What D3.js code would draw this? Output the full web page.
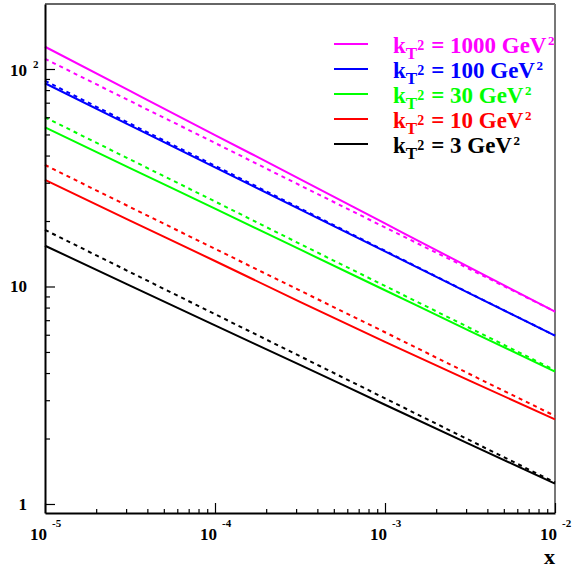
<!DOCTYPE html>
<html>
<head>
<meta charset="utf-8">
<script src="https://cdn.jsdelivr.net/npm/d3@7"></script>
<style>
  body { margin: 0; background: #fff; }
  text { font-family: "Liberation Serif", "DejaVu Serif", serif; font-weight: bold; }
</style>
</head>
<body>
<svg id="chart" width="572" height="568"></svg>
<script>
// x points (log spaced) shared by all curves
const xs = [1e-5, 3.162e-5, 1e-4, 3.162e-4, 1e-3, 3.162e-3, 1e-2];

// solid curves
const solid1000 = [126.6, 79.3, 49.7, 31.2, 19.5, 12.2, 7.66];
const solid100  = [86.0, 55.1, 35.3, 22.6, 14.5, 9.27, 5.94];
const solid30   = [53.9, 35.0, 22.8, 14.8, 9.61, 6.24, 4.06];
const solid10   = [30.9, 20.1, 13.1, 8.5, 5.56, 3.68, 2.45];
const solid3    = [15.4, 10.1, 6.63, 4.36, 2.86, 1.88, 1.24];

// dashed curves
const dashed1000 = [111.4, 71.3, 45.7, 29.2, 18.7, 12.0, 7.67];
const dashed100  = [88.3, 56.1, 35.9, 22.9, 14.6, 9.3, 5.95];
const dashed30   = [60.0, 38.4, 24.6, 15.7, 10.06, 6.44, 4.12];
const dashed10   = [36.2, 23.2, 14.9, 9.58, 6.16, 3.95, 2.54];
const dashed3    = [18.2, 11.65, 7.46, 4.78, 3.06, 1.96, 1.256];

const legendValues = ["1000", "100", "30", "10", "3"];
const colors = ["#ff00ff", "#0000ff", "#00ff00", "#ff0000", "#000000"];

const xMajor = [1e-5, 1e-4, 1e-3, 1e-2];
const xMajorExp = ["-5", "-4", "-3", "-2"];
const yMajor = [1, 10, 100];

const svg = d3.select("#chart");
const mLeft = 45, mRight = 555, mTop = 4, mBottom = 513;

const x = d3.scaleLog().domain([1e-5, 1e-2]).range([mLeft, mRight]);
const y = d3.scaleLog().domain([0.909, 199]).range([mBottom, mTop]);

// minor ticks 2..9 per decade
function minors(lo, hi) {
  const out = [];
  for (let d = Math.floor(Math.log10(lo)); d <= Math.ceil(Math.log10(hi)); d++) {
    for (let m = 2; m <= 9; m++) {
      const v = m * Math.pow(10, d);
      if (v > lo && v < hi) out.push(v);
    }
  }
  return out;
}

// frame (top and right)
svg.append("line").attr("x1", mLeft).attr("x2", mRight).attr("y1", mTop).attr("y2", mTop)
  .attr("stroke", "#333").attr("stroke-width", 1.5);
svg.append("line").attr("x1", mRight).attr("x2", mRight).attr("y1", mTop).attr("y2", mBottom)
  .attr("stroke", "#777").attr("stroke-width", 2);

// curves
const line = d3.line().x(d => x(d[0])).y(d => y(d[1])).curve(d3.curveMonotoneX);
const solids = [solid1000, solid100, solid30, solid10, solid3];
const dashes = [dashed1000, dashed100, dashed30, dashed10, dashed3];

solids.forEach((s, i) => {
  svg.append("path")
    .datum(xs.map((v, j) => [v, s[j]]))
    .attr("d", line)
    .attr("fill", "none")
    .attr("stroke", colors[i])
    .attr("stroke-width", 2);
  svg.append("path")
    .datum(xs.map((v, j) => [v, dashes[i][j]]))
    .attr("d", line)
    .attr("fill", "none")
    .attr("stroke", colors[i])
    .attr("stroke-width", 2)
    .attr("stroke-dasharray", "4,4");
});

// axes
const gx = svg.append("g").attr("transform", `translate(0,${mBottom})`);
gx.call(d3.axisBottom(x).tickValues(xMajor).tickSize(-10).tickSizeOuter(0).tickFormat(""));
gx.append("g").call(d3.axisBottom(x).tickValues(minors(1e-5, 1e-2)).tickSize(-4).tickSizeOuter(0).tickFormat(""))
  .select(".domain").remove();

const gy = svg.append("g").attr("transform", `translate(${mLeft},0)`);
gy.call(d3.axisLeft(y).tickValues(yMajor).tickSize(-10).tickSizeOuter(0).tickFormat(""));
gy.append("g").call(d3.axisLeft(y).tickValues(minors(0.909, 199)).tickSize(-5).tickSizeOuter(0).tickFormat(""))
  .select(".domain").remove();

svg.selectAll(".domain").attr("stroke", "#000").attr("stroke-width", 2);
svg.selectAll(".tick line").attr("stroke", "#000").attr("stroke-width", 1.2);

// x tick labels
xMajor.forEach((v, i) => {
  const px = x(v);
  svg.append("text").attr("x", px + 2).attr("y", 540).attr("text-anchor", "end")
    .attr("font-size", 17).text("10");
  svg.append("text").attr("x", px + 7).attr("y", 527)
    .attr("font-size", 11).text(xMajorExp[i]);
});

// y tick labels
svg.append("text").attr("x", 27).attr("y", y(1) + 6).attr("text-anchor", "end")
  .attr("font-size", 17).text("1");
svg.append("text").attr("x", 27).attr("y", y(10) + 6).attr("text-anchor", "end")
  .attr("font-size", 17).text("10");
svg.append("text").attr("x", 27).attr("y", y(100) + 7).attr("text-anchor", "end")
  .attr("font-size", 17).text("10");
svg.append("text").attr("x", 33).attr("y", y(100) - 1)
  .attr("font-size", 11).text("2");

// axis title
svg.append("text").attr("x", 555).attr("y", 564).attr("text-anchor", "end")
  .attr("font-size", 22).text("x");

// legend: each piece is its own text, placed after the previous one
legendValues.forEach((v, i) => {
  const ly = 44 + i * 25;
  svg.append("line").attr("x1", 334).attr("x2", 368).attr("y1", ly).attr("y2", ly)
    .attr("stroke", colors[i]).attr("stroke-width", 2);
  const base = ly + 9;
  const parts = [
    { s: "k", size: 23, dy: 0, gap: -1 },
    { s: "T", size: 17, dy: 6, gap: 0 },
    { s: "2", size: 14, dy: -3, gap: 0 },
    { s: "= " + v + " GeV", size: 23, dy: 0, gap: 7 },
    { s: "2", size: 13, dy: -8, gap: 1.5 }
  ];
  let cx = 394;
  parts.forEach(p => {
    cx += p.gap;
    const t = svg.append("text").attr("x", cx).attr("y", base + p.dy)
      .attr("font-size", p.size).attr("fill", colors[i]).text(p.s);
    cx += t.node().getComputedTextLength();
  });
});
</script>
</body>
</html>
